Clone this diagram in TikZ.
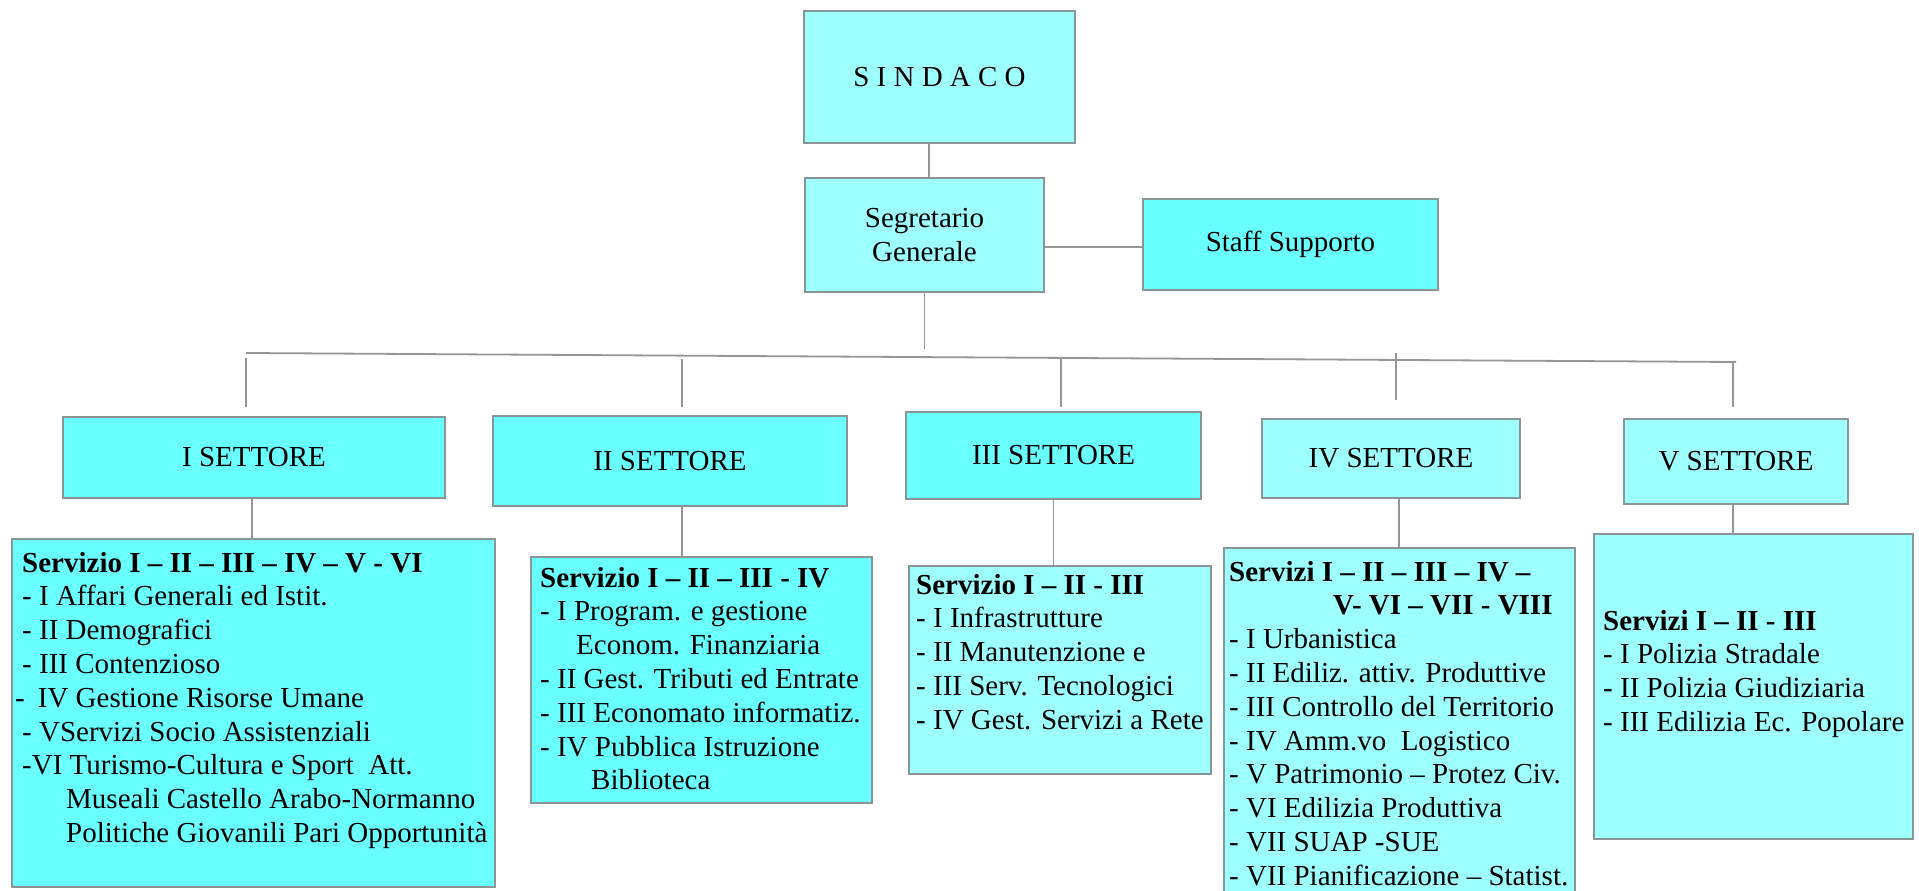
\documentclass[tikz,border=0pt]{standalone}
\usepackage{fontspec}
\setmainfont{Liberation Serif}
\definecolor{bright}{RGB}{106,255,255}
\definecolor{pale}{RGB}{158,255,255}
\definecolor{edge}{RGB}{138,150,150}
\definecolor{wire}{RGB}{150,150,150}
\newcommand{\boxlines}[1]{\begin{tabular}[t]{@{}l@{}}#1\end{tabular}}
\begin{document}
\begin{tikzpicture}[x=1pt,y=-1pt,
  every node/.style={font=\fontsize{29pt}{33.8pt}\selectfont, text=black},
  bx/.style={draw=edge, line width=1.4pt, inner sep=0pt, rectangle},
  txt/.style={anchor=base west, inner sep=0pt},
  conn/.style={draw=wire, line width=1.5pt},
]
\fill[white] (0,0) rectangle (1919,891);
\useasboundingbox (0,0) rectangle (1919,891);

% top level
\node[bx, fill=pale, minimum width=271pt, minimum height=132pt] (sind) at (939.5,77) {S I N D A C O};
\node[bx, fill=pale, minimum width=239pt, minimum height=114pt, align=center] (segr) at (924.5,235) {Segretario\\Generale};
\node[bx, fill=bright, minimum width=295pt, minimum height=91pt] (staff) at (1290.5,244.5) {Staff Supporto};

% settori
\node[bx, fill=bright, minimum width=382pt, minimum height=81pt] (set1) at (254,457.5) {I SETTORE};
\node[bx, fill=bright, minimum width=354pt, minimum height=90pt] (set2) at (670,461) {II SETTORE};
\node[bx, fill=bright, minimum width=295pt, minimum height=87pt] (set3) at (1053.5,455.5) {III SETTORE};
\node[bx, fill=pale, minimum width=258pt, minimum height=79pt] (set4) at (1391,458.5) {IV SETTORE};
\node[bx, fill=pale, minimum width=224pt, minimum height=85pt] (set5) at (1736,461.5) {V SETTORE};

% servizi boxes
\node[bx, fill=bright, minimum width=483pt, minimum height=348pt] (ser1) at (253.5,713) {};
\node[bx, fill=bright, minimum width=341pt, minimum height=246pt] (ser2) at (701.5,680) {};
\node[bx, fill=pale, minimum width=302pt, minimum height=208pt] (ser3) at (1060,670) {};
\node[bx, fill=pale, minimum width=351pt, minimum height=352pt] (ser4) at (1399.5,724) {};
\node[bx, fill=pale, minimum width=319pt, minimum height=305pt] (ser5) at (1753.5,686.5) {};

% servizi texts
\node[txt] (ser1t) at (22,572) {\boxlines{%
\textbf{Servizio I – II – III – IV – V - VI}\\
- I Affari Generali ed Istit.\\
- II Demografici\\
- III Contenzioso\\
\hspace*{-7pt}-\hspace{13pt}IV Gestione Risorse Umane\\
- VServizi Socio Assistenziali\\
-VI Turismo-Cultura e Sport\ \ Att.\\
\hspace*{44pt}Museali Castello Arabo-Normanno\\
\hspace*{44pt}Politiche Giovanili Pari Opportunità}};

\node[txt] (ser2t) at (540,587) {\boxlines{%
\textbf{Servizio I – II – III - IV}\\
- I Program. e gestione\\
\hspace*{36pt}Econom. Finanziaria\\
- II Gest. Tributi ed Entrate\\
- III Economato informatiz.\\
- IV Pubblica Istruzione\\
\hspace*{51pt}Biblioteca}};

\node[txt] (ser3t) at (916,594) {\boxlines{%
\textbf{Servizio I – II - III}\\
- I Infrastrutture\\
- II Manutenzione e\\
- III Serv. Tecnologici\\
- IV Gest. Servizi a Rete}};

\node[txt] (ser4t) at (1229,581) {\boxlines{%
\textbf{Servizi I – II – III – IV –}\\
\hspace*{104pt}\textbf{V- VI – VII - VIII}\\
- I Urbanistica\\
- II Ediliz. attiv. Produttive\\
- III Controllo del Territorio\\
- IV Amm.vo\ \ Logistico\\
- V Patrimonio – Protez Civ.\\
- VI Edilizia Produttiva\\
- VII SUAP -SUE\\
- VII Pianificazione – Statist.}};

\node[txt] (ser5t) at (1603,630) {\boxlines{%
\textbf{Servizi I – II - III}\\
- I Polizia Stradale\\
- II Polizia Giudiziaria\\
- III Edilizia Ec. Popolare}};

% connectors top
\draw[conn] ([xshift=-10.5pt]sind.south) -- ([xshift=-10.5pt]sind.south |- segr.north);
\draw[conn] ([yshift=-12pt]segr.east) -- ([yshift=-12pt]segr.east -| staff.west);
\coordinate (segdrop) at (924.5,349);
\draw[conn] (segr.south) -- (segdrop);

% bus
\coordinate (busL) at (246,353);
\coordinate (busR) at (1736,362);
\draw[conn, line width=1.8pt] (busL) -- (busR);

% drops to settori
\coordinate (d1) at (246,358);
\coordinate (d2) at (682,358.5);
\coordinate (d3) at (1061,359);
\coordinate (d4) at (1396,353);
\coordinate (d5) at (1733,363);
\draw[conn, shorten >=9pt] (d1) -- (d1 |- set1.north);
\draw[conn, shorten >=8pt] (d2) -- (d2 |- set2.north);
\draw[conn, shorten >=4pt] (d3) -- (d3 |- set3.north);
\draw[conn, shorten >=18pt] (d4) -- (d4 |- set4.north);
\draw[conn, shorten >=11pt] (d5) -- (d5 |- set5.north);

% settori to servizi
\draw[conn] ([xshift=-2pt]set1.south) -- ([xshift=-2pt]set1.south |- ser1.north);
\draw[conn] ([xshift=12pt]set2.south) -- ([xshift=12pt]set2.south |- ser2.north);
\draw[conn] (set3.south) -- (set3.south |- ser3.north);
\draw[conn] ([xshift=8pt]set4.south) -- ([xshift=8pt]set4.south |- ser4.north);
\draw[conn] ([xshift=-3pt]set5.south) -- ([xshift=-3pt]set5.south |- ser5.north);
\end{tikzpicture}
\end{document}
